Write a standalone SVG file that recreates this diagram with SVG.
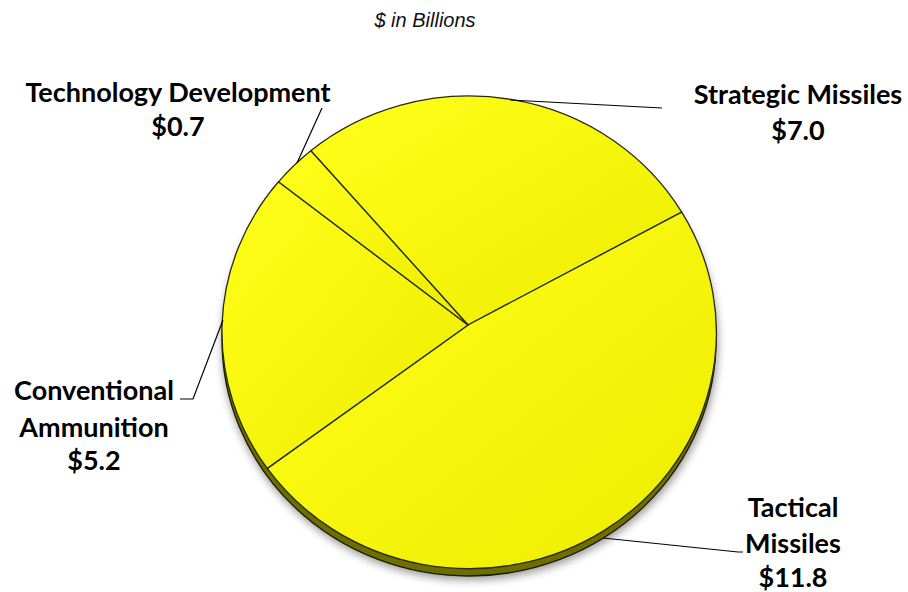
<svg xmlns="http://www.w3.org/2000/svg" width="908" height="592" viewBox="0 0 908 592">
<style>
.lbl{font-family:Lato,"Open Sans","Liberation Sans",sans-serif;font-weight:bold;font-size:27px;fill:#000;text-anchor:middle}
.slice{fill:url(#topg);stroke:#2a2a10;stroke-width:1.3;stroke-linejoin:round}
.lead{fill:none;stroke:#000;stroke-width:1.2}
</style>
<defs>
<linearGradient id="topg" x1="0" y1="0" x2="1" y2="1" gradientUnits="objectBoundingBox">
<stop offset="0" stop-color="#ffff1a"/>
<stop offset="1" stop-color="#eded00"/>
</linearGradient>
<filter id="blur" x="-20%" y="-20%" width="140%" height="140%"><feGaussianBlur stdDeviation="4"/></filter>
</defs>
<rect width="908" height="592" fill="#fff"/>
<text x="425" y="27" font-family="'Liberation Sans',Arial,sans-serif" font-style="italic" font-size="20" fill="#111" text-anchor="middle">$ in Billions</text>
<g id="pie-base">
<ellipse cx="470" cy="343" rx="248" ry="237" fill="#444" opacity="0.55" filter="url(#blur)"/>
<ellipse cx="469" cy="340" rx="247" ry="236" fill="#6e6e00" stroke="#1a1a00" stroke-width="1.3"/>
</g>
<g id="strategic-missiles"><path class="slice" d="M468,325 L310.8,150.7 A247,236 0 0 1 681.7,212.1 Z"/></g>
<g id="tactical-missiles"><path class="slice" d="M468,325 L681.7,212.1 A247,236 0 0 1 267.3,468.4 Z"/></g>
<g id="conventional-ammunition"><path class="slice" d="M468,325 L267.3,468.4 A247,236 0 0 1 278.5,181.8 Z"/></g>
<g id="technology-development"><path class="slice" d="M468,325 L278.5,181.8 A247,236 0 0 1 310.8,150.7 Z"/></g>
<g id="connectors">
<path class="lead" d="M510,100 L662,108"/>
<path class="lead" d="M322,108 L297,163"/>
<path class="lead" d="M223,320 L193,399 L180,399"/>
<path class="lead" d="M603,538 L738,552 L743,552"/>
</g>
<g id="label-technology"><text class="lbl" x="178" y="102">Technology Development</text><text class="lbl" x="178" y="136">$0.7</text></g>
<g id="label-strategic"><text class="lbl" x="798" y="104">Strategic Missiles</text><text class="lbl" x="798" y="140">$7.0</text></g>
<g id="label-conventional"><text class="lbl" x="94" y="400">Conventional</text><text class="lbl" x="94" y="437">Ammunition</text><text class="lbl" x="94" y="470">$5.2</text></g>
<g id="label-tactical"><text class="lbl" x="793" y="517">Tactical</text><text class="lbl" x="793" y="553">Missiles</text><text class="lbl" x="793" y="587">$11.8</text></g>
</svg>
